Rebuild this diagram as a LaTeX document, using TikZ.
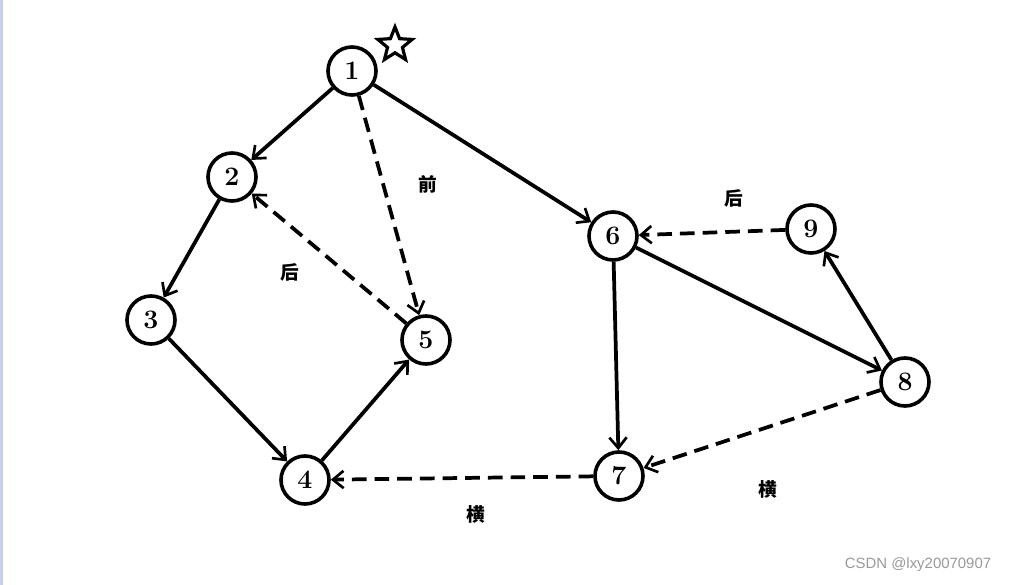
\documentclass[tikz,border=0pt]{standalone}
\usepackage{fontspec}
\newfontfamily\cjk{Noto Sans CJK SC}
\newfontfamily\wmfont{Liberation Sans}
\usetikzlibrary{arrows.meta}
\usetikzlibrary{shapes.geometric}
\definecolor{edgebar}{RGB}{200,210,230}

\begin{document}
\begin{tikzpicture}[x=0.75pt, y=-0.75pt,
    vertex/.style={circle, draw, line width=2.7pt, minimum size=36pt, inner sep=0pt,
        font=\bfseries\fontsize{20}{20}\selectfont},
    tree/.style={line width=2.8pt, -{Straight Barb[length=8pt, width=13pt, line width=2pt]}},
    back/.style={tree, dash pattern=on 11pt off 6pt},
    tag/.style={font=\cjk\bfseries\fontsize{14}{14}\selectfont}]
    % Canvas size and the bar at the left edge
    \useasboundingbox (0,0) rectangle (1015,585);
    \fill[edgebar] (0,0) rectangle (3,585);
    % Vertices
    \foreach \name/\x/\y in {
        1/352/71,
        2/232/177,
        3/151/320,
        4/305/480,
        5/426/340,
        6/613/236,
        7/619/476,
        8/905/382,
        9/811/229
    } {
        \node[vertex] (n\name) at (\x,\y) {\name};
    }
    % Start marker
    \node[star, star points=5, star point ratio=2.3, draw, line width=2.4pt,
        minimum size=27pt, inner sep=0pt] (start) at (395,45) {};
    % Tree edges
    \foreach \a/\b in {1/2, 1/6, 2/3, 3/4, 4/5, 6/7, 6/8, 8/9} {
        \draw[tree] (n\a) -- (n\b);
    }
    % Non-tree edges
    \foreach \a/\b in {1/5, 5/2, 9/6, 8/7, 7/4} {
        \draw[back] (n\a) -- (n\b);
    }
    % Edge kinds
    \node[tag] (front) at (428,184) {前};
    \node[tag] (backl) at (290,272) {后};
    \node[tag] (backr) at (734,198) {后};
    \node[tag] (crossl) at (476,514) {横};
    \node[tag] (crossr) at (768,489) {横};
    \node[text=gray!80, font=\wmfont\fontsize{11.2}{11.2}\selectfont] (mark) at (918,565) {CSDN @lxy20070907};
\end{tikzpicture}
\end{document}
